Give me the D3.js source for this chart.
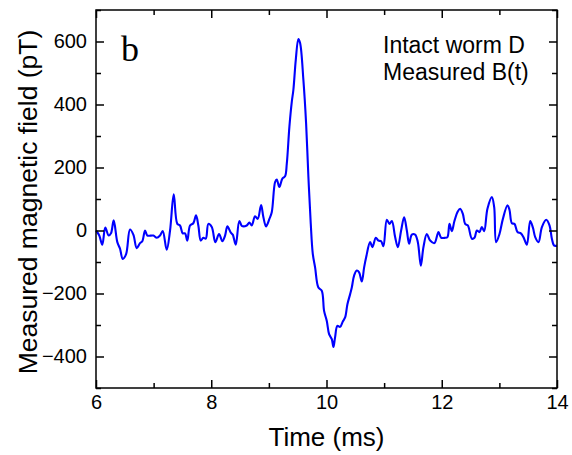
<!DOCTYPE html>
<html>
<head>
<meta charset="utf-8">
<script src="https://cdn.jsdelivr.net/npm/d3@7"></script>
<style>
  html, body { margin: 0; padding: 0; background: #fff; }
  svg { display: block; }
</style>
</head>
<body>
<svg id="chart" width="572" height="455"></svg>
<script>
// Time (ms)
const time = [
  6.000, 6.057, 6.109, 6.161, 6.220, 6.260, 6.307, 6.370, 6.417, 6.464, 6.521, 6.590, 6.648, 6.707, 6.764, 6.804,
  6.851, 6.891, 6.995, 7.054, 7.111, 7.158, 7.227, 7.285, 7.349, 7.411, 7.458, 7.505, 7.545, 7.585, 7.632, 7.689,
  7.736, 7.776, 7.818, 7.863, 7.905, 7.950, 8.009, 8.071, 8.135, 8.193, 8.240, 8.280, 8.339, 8.373, 8.425, 8.488,
  8.535, 8.616, 8.661, 8.703, 8.760, 8.807, 8.865, 8.905, 8.951, 9.009, 9.050, 9.108, 9.137, 9.182, 9.234, 9.281,
  9.311, 9.356, 9.398, 9.425, 9.467, 9.512, 9.542, 9.599, 9.646, 9.686, 9.727, 9.762, 9.802, 9.859, 9.918, 9.958,
  10.005, 10.045, 10.092, 10.120, 10.148, 10.189, 10.236, 10.283, 10.323, 10.363, 10.410, 10.439, 10.479, 10.526,
  10.566, 10.613, 10.653, 10.688, 10.757, 10.797, 10.856, 10.901, 10.948, 10.988, 11.047, 11.092, 11.134, 11.191,
  11.238, 11.295, 11.347, 11.394, 11.434, 11.481, 11.538, 11.585, 11.637, 11.682, 11.741, 11.799, 11.873, 11.943,
  11.990, 12.059, 12.099, 12.134, 12.175, 12.220, 12.280, 12.319, 12.366, 12.406, 12.453, 12.523, 12.568, 12.609,
  12.655, 12.696, 12.736, 12.793, 12.870, 12.910, 12.944, 13.002, 13.061, 13.141, 13.175, 13.217, 13.262, 13.314,
  13.373, 13.418, 13.477, 13.535, 13.582, 13.622, 13.679, 13.738, 13.813, 13.870, 13.911, 13.951, 13.998
];
// Measured magnetic field (pT)
const field = [
  0, -16, -45, 9, -16, -9, 32, -37, -58, -90, -76, 3, -13, -56, -40, -34,
  0, -16, -16, -23, -16, -2, -61, 0, 115, 21, 16, -9, -9, -32, 16, 23,
  48, 16, -32, -23, -26, 21, 11, -37, -11, -34, -16, 13, -7, -13, -45, 30,
  14, 16, 25, 16, 45, 37, 81, 42, 13, 37, 58, 154, 162, 138, 165, 172,
  212, 329, 409, 446, 542, 608, 595, 478, 340, 170, 21, -74, -117, -181, -191, -255,
  -287, -329, -345, -370, -340, -303, -306, -289, -276, -234, -202, -181, -143, -127,
  -133, -162, -117, -85, -37, -53, -23, -32, -34, -50, 34, 21, 30, -21,
  -53, 0, 42, 0, -42, -13, -13, -37, -112, -53, -11, -32, -40, -5,
  -23, -23, -21, 21, -2, 30, 61, 69, 53, 21, 16, -26, -23, 0,
  -5, 11, -2, 69, 106, 74, -37, -11, 37, 80, 66, 23, 21, -5,
  -9, -21, -45, 30, 9, -21, -37, 11, 34, 16, -26, -48, -48
];
const xTickLabels = [6, 8, 10, 12, 14];
const xMinorTicks = [7, 9, 11, 13];
const yTickLabels = [-400, -200, 0, 200, 400, 600];
const yMinorTicks = [-500, -300, -100, 100, 300, 500, 700];
const legendLines = ["Intact worm D", "Measured B(t)"];
const panelLabel = "b";
const xTitle = "Time (ms)";
const yTitle = "Measured magnetic field (pT)";

const W = 572, H = 455;
const m = { left: 96, top: 10, right: 15, bottom: 67 };
const svg = d3.select("#chart");
const x = d3.scaleLinear().domain([6, 14]).range([m.left, W - m.right]);
const y = d3.scaleLinear().domain([-500, 700]).range([H - m.bottom, m.top]);

const font = "'Liberation Sans', Arial, sans-serif";
const ink = "#000";

// data line
const data = time.map((t, i) => ({ t, b: field[i] }));
svg.append("path")
  .datum(data)
  .attr("fill", "none")
  .attr("stroke", "#0000ff")
  .attr("stroke-width", 2.1)
  .attr("stroke-linejoin", "round")
  .attr("d", d3.line().x(d => x(d.t)).y(d => y(d.b)).curve(d3.curveCatmullRom.alpha(0.5)));

// axes with inward ticks
function axisGroup(axisGen, transform) {
  const g = svg.append("g").attr("transform", transform).call(axisGen);
  g.select(".domain").remove();
  g.selectAll("line").attr("stroke", ink).attr("stroke-width", 1.5);
  g.selectAll("text").attr("font-family", font).attr("fill", ink);
  return g;
}
const bottomY = H - m.bottom, topY = m.top, leftX = m.left, rightX = W - m.right;

// bottom major (labelled)
axisGroup(d3.axisBottom(x).tickValues(xTickLabels).tickSize(-8).tickPadding(7).tickFormat(d3.format("d")),
  `translate(0,${bottomY})`).selectAll("text").attr("font-size", 20);
axisGroup(d3.axisBottom(x).tickValues(xMinorTicks).tickSize(-5).tickFormat(""), `translate(0,${bottomY})`);
// top
axisGroup(d3.axisTop(x).tickValues(xTickLabels).tickSize(-8).tickFormat(""), `translate(0,${topY})`);
axisGroup(d3.axisTop(x).tickValues(xMinorTicks).tickSize(-5).tickFormat(""), `translate(0,${topY})`);
// left
axisGroup(d3.axisLeft(y).tickValues(yTickLabels).tickSize(-8).tickPadding(9).tickFormat(d3.format("d")),
  `translate(${leftX},0)`).selectAll("text").attr("font-size", 20);
axisGroup(d3.axisLeft(y).tickValues(yMinorTicks).tickSize(-5).tickFormat(""), `translate(${leftX},0)`);
// right
axisGroup(d3.axisRight(y).tickValues(yTickLabels).tickSize(-8).tickFormat(""), `translate(${rightX},0)`);
axisGroup(d3.axisRight(y).tickValues(yMinorTicks).tickSize(-5).tickFormat(""), `translate(${rightX},0)`);

// frame
svg.append("rect")
  .attr("x", leftX).attr("y", topY)
  .attr("width", rightX - leftX).attr("height", bottomY - topY)
  .attr("fill", "none").attr("stroke", ink).attr("stroke-width", 1.5);

// axis titles
svg.append("text")
  .attr("x", (leftX + rightX) / 2).attr("y", 446)
  .attr("text-anchor", "middle")
  .attr("font-family", font).attr("font-size", 26).attr("fill", ink)
  .text(xTitle);
svg.append("text")
  .attr("transform", `translate(37,${(topY + bottomY) / 2 + 3}) rotate(-90)`)
  .attr("text-anchor", "middle")
  .attr("font-family", font).attr("font-size", 26.5).attr("fill", ink)
  .text(yTitle);

// panel label
svg.append("text")
  .attr("x", 121).attr("y", 61)
  .attr("font-family", "'Liberation Serif', 'Times New Roman', serif")
  .attr("font-size", 36).attr("fill", ink)
  .text(panelLabel);

// legend text
svg.append("g").selectAll("text").data(legendLines).join("text")
  .attr("x", 383).attr("y", (d, i) => 53 + i * 27)
  .attr("font-family", font).attr("font-size", 23).attr("fill", ink)
  .text(d => d);
</script>
</body>
</html>
